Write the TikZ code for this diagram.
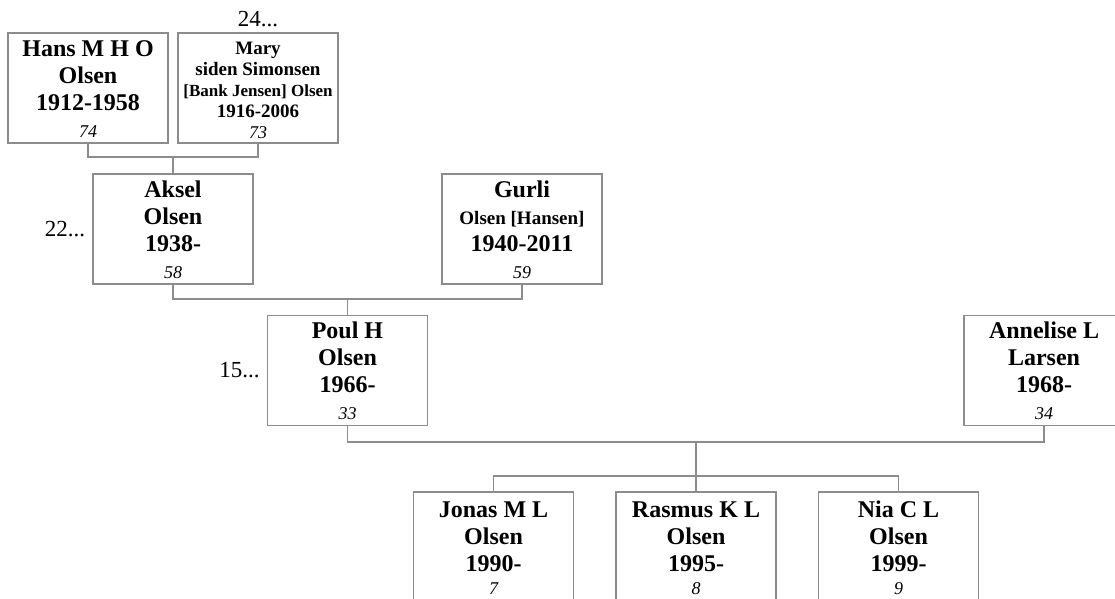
\documentclass[tikz,border=0pt]{standalone}
\usepackage{fontspec}
\setmainfont{Liberation Serif}
\usetikzlibrary{positioning}

\definecolor{linegray}{RGB}{140,140,140}
\newcommand{\bigname}{\fontsize{24}{27}\selectfont\bfseries}
\newcommand{\smallname}[1]{{\fontsize{19}{27}\selectfont #1}}
\newcommand{\age}[1]{{\fontsize{18}{27}\selectfont\mdseries\itshape #1}}

\tikzset{
    person/.style={rectangle, draw=linegray, line width=1.2pt, text width=156pt,
        inner sep=2pt, minimum height=110pt, align=flush center, font=\bigname,
        execute at begin node={\noindent\rule{0pt}{18pt}}},
    link/.style={draw=linegray, line width=1.2pt},
    gen/.style={font=\fontsize{23}{27}\selectfont, inner sep=2pt}
}

\begin{document}
\begin{tikzpicture}[x=1pt, y=-1pt]
    \useasboundingbox (0,0) rectangle (1115,598);

    % Grandparents
    \node[person] (hans) at (88,88) {Hans M H O\\Olsen\\1912-1958\\\age{74}};
    \node[person, font=\fontsize{19}{21}\selectfont\bfseries] (mary) at (258,88)
        {Mary\\siden Simonsen\\{\fontsize{17}{21}\selectfont [Bank Jensen] Olsen}\\1916-2006\\\age{73}};
    \node[gen, above=3pt of mary] (mary-gen) {24...};

    % Parents
    \node[person] (aksel) at (173,229) {Aksel\\Olsen\\1938-\\\age{58}};
    \node[person] (gurli) at (522,229) {Gurli\\\smallname{Olsen [Hansen]}\\1940-2011\\\age{59}};
    \node[gen, left=5pt of aksel] (aksel-gen) {22...};

    % Couple
    \node[person] (poul) at (347.5,370.5) {Poul H\\Olsen\\1966-\\\age{33}};
    \node[person] (annelise) at (1044,370.5) {Annelise L\\Larsen\\1968-\\\age{34}};
    \node[gen, left=5pt of poul] (poul-gen) {15...};

    % Children
    \node[person] (jonas) at (493.5,547) {Jonas M L\\Olsen\\1990-\\[-4pt]\age{7}};
    \node[person] (rasmus) at (696,547) {Rasmus K L\\Olsen\\1995-\\[-4pt]\age{8}};
    \node[person] (nia) at (898.5,547) {Nia C L\\Olsen\\1999-\\[-4pt]\age{9}};

    % Connectors
    \coordinate (j1) at (173,157);
    \coordinate (j2) at (347.5,299);
    \coordinate (j3) at (696,442);
    \coordinate (j4) at (696,476);
    \draw[link] (hans.south) |- (j1) -| (mary.south);
    \draw[link] (j1) -- (aksel.north);
    \draw[link] (aksel.south) |- (j2) -| (gurli.south);
    \draw[link] (j2) -- (poul.north);
    \draw[link] (poul.south) |- (j3) -| (annelise.south);
    \draw[link] (j3) -- (j4);
    \draw[link] (jonas.north) |- (j4) -| (nia.north);
    \foreach \c in {rasmus} \draw[link] (j4) -- (\c.north);
\end{tikzpicture}
\end{document}
